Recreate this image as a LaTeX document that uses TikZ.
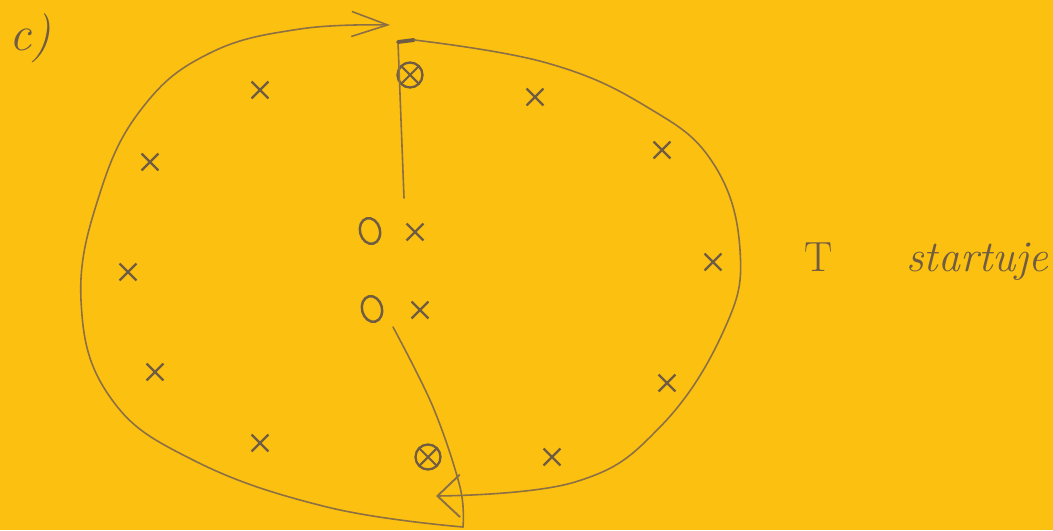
\documentclass[tikz,border=0pt]{standalone}
\usepackage{fontspec}
\usetikzlibrary{arrows.meta,positioning,shapes.geometric,shapes.misc}
\definecolor{paper}{RGB}{251,192,16}
\definecolor{pencil}{RGB}{140,112,68}
\definecolor{lead}{RGB}{112,92,66}

\begin{document}
\begin{tikzpicture}[
        x=0.02cm, y=-0.02cm,
        stroke/.style={draw=pencil, line width=0.9pt, line cap=round},
        xmark/.style={cross out, draw=lead, line width=1.3pt, minimum size=0.29cm, inner sep=0pt},
        ring/.style={ellipse, draw=lead, line width=1.4pt, minimum width=0.4cm, minimum height=0.52cm, inner sep=0pt, rotate=15},
        ball/.style={circle, draw=lead, line width=1.3pt, minimum size=0.5cm, inner sep=0pt,
          path picture={\draw[lead, line width=1.2pt] (path picture bounding box.north west) -- (path picture bounding box.south east)
            (path picture bounding box.north east) -- (path picture bounding box.south west);}},
        hand/.style={text=lead, inner sep=0pt},
        lefthead/.style={-{Straight Barb[length=0.72cm, width=0.5cm, line width=0.9pt]}},
        righthead/.style={-{Straight Barb[length=0.45cm, width=0.85cm, line width=1.1pt]}}
      ]
        \fill[paper] (0,0) rectangle (1053,530);
        \useasboundingbox (0,0) rectangle (1053,530);

        \node[hand, font=\fontsize{28}{32}\selectfont\itshape] (lbl) at (30,38) {c)};

        % players in the middle
        \node[ring] (o1) at (370,231) {};
        \node[ring] (o2) at (372,309) {};
        \node[xmark] (x1) at (415,232) {};
        \node[xmark] (x2) at (420,310) {};
        \node[ball] (b1) at (410,75) {};
        \node[ball] (b2) at (428,457) {};

        % players round the circle
        \foreach \px/\py [count=\i] in {260/90, 150/162, 128/272, 155/372, 260/443,
                                        535/97, 662/150, 713/262, 667/383, 552/457}
          \node[xmark] (c\i) at (\px,\py) {};

        \node[hand, font=\fontsize{24}{28}\selectfont] (t) at (819,257) {T};
        \node[hand, font=\fontsize{25}{30}\selectfont\itshape, anchor=base west] (word)
          at ([xshift=1.45cm]t.base east) {startuje};

        \coordinate (top) at (398,42);
        \coordinate (stem) at (404,198);
        \coordinate (rstart) at (414,40);
        \coordinate (rtip) at (436,496);
        \coordinate (tail) at (393,327);
        \coordinate (bot) at (463,527);
        \coordinate (ltip) at (390,25);

        \draw[stroke] (stem) -- (top);
        \draw[draw=lead, line width=2.2pt, line cap=round] (top) -- (rstart);
        \draw[stroke, righthead] plot[smooth, tension=0.7] coordinates {(rstart) (547,63)
          (647,107) (713,163) (740,250) (724,330) (660,427) (575,482) (rtip)};
        \draw[stroke] plot[smooth, tension=0.6] coordinates {(tail) (433,407) (460,487) (bot)};
        \draw[stroke, lefthead] plot[smooth, tension=0.7] coordinates {(bot) (327,507)
          (193,460) (110,397) (81,300) (100,193) (143,107) (210,53) (300,29) (ltip)};
      \end{tikzpicture}
\end{document}
